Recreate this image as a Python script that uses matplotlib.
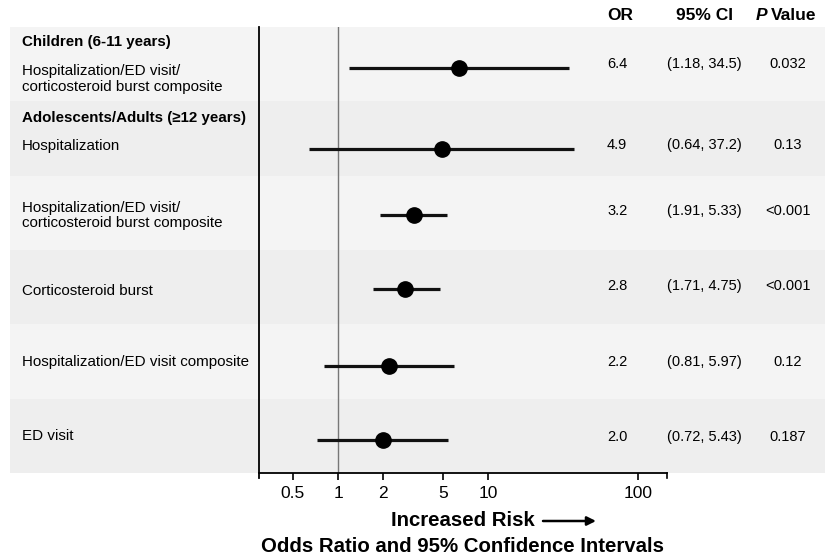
import matplotlib
matplotlib.use('Agg')
import matplotlib.pyplot as plt
from matplotlib.patches import Rectangle, FancyArrowPatch
from matplotlib.transforms import blended_transform_factory

plt.rcParams['font.family'] = ['Liberation Sans', 'DejaVu Sans']

# ---------------- data ----------------
groups = ["Children (6-11 years)", "Adolescents/Adults (\u226512 years)"]
outcomes = [
    "Hospitalization/ED visit/\ncorticosteroid burst composite",
    "Hospitalization",
    "Hospitalization/ED visit/\ncorticosteroid burst composite",
    "Corticosteroid burst",
    "Hospitalization/ED visit composite",
    "ED visit",
]
odds_ratio = [6.4, 4.9, 3.2, 2.8, 2.2, 2.0]
ci_low = [1.18, 0.64, 1.91, 1.71, 0.81, 0.72]
ci_high = [34.5, 37.2, 5.33, 4.75, 5.97, 5.43]
or_labels = ["6.4", "4.9", "3.2", "2.8", "2.2", "2.0"]
ci_labels = ["(1.18, 34.5)", "(0.64, 37.2)", "(1.91, 5.33)",
             "(1.71, 4.75)", "(0.81, 5.97)", "(0.72, 5.43)"]
p_labels = ["0.032", "0.13", "<0.001", "<0.001", "0.12", "0.187"]
xtick_values = [0.5, 1, 2, 5, 10, 100]
xtick_labels = ["0.5", "1", "2", "5", "10", "100"]

# ---------------- layout ----------------
W, H = 825, 555
fig = plt.figure(figsize=(W / 100, H / 100), dpi=100)
fig.patch.set_facecolor('white')

ax_left, ax_right, ax_top, ax_bot = 259, 667, 27, 473
ax = fig.add_axes([ax_left / W, 1 - ax_bot / H, (ax_right - ax_left) / W, (ax_bot - ax_top) / H])
ax.patch.set_visible(False)
ax.set_xscale('log')
ax.set_xlim(0.297, 156)
nrows = len(outcomes)
ax.set_ylim(nrows, 0)

# row positions (in row units, each row one band)
marker_y = [0.55, 1.635, 2.53, 3.53, 4.56, 5.56]
label_y = [0.70, 1.60, 2.53, 3.55, 4.51, 5.50]
group_y = [0.20, 1.22]

tr = blended_transform_factory(fig.transFigure, ax.transData)

band_colors = ['#f4f4f4', '#eeeeee']
for i in range(nrows):
    ax.add_patch(Rectangle((10 / W, i), 1 - 10 / W, 1, transform=tr,
                           facecolor=band_colors[i % 2], edgecolor='none',
                           clip_on=False, zorder=0))

# reference line at OR = 1
ax.axvline(1, color='#777777', lw=1.0, zorder=1)

# CIs and points
for i in range(nrows):
    ax.plot([ci_low[i], ci_high[i]], [marker_y[i], marker_y[i]], color='#111111',
            lw=2.3, solid_capstyle='butt', zorder=2)
    ax.plot(odds_ratio[i], marker_y[i], 'o', color='black', ms=11, zorder=3)

# spines / ticks
for s in ['top', 'right']:
    ax.spines[s].set_visible(False)
ax.spines['left'].set_linewidth(1.3)
ax.spines['bottom'].set_linewidth(1.3)
ax.spines['left'].set_bounds(nrows + 0.07, 0)
ax.set_yticks([])
ax.set_xticks(xtick_values)
ax.set_xticklabels(xtick_labels, fontsize=12.5)
ax.xaxis.set_minor_locator(matplotlib.ticker.NullLocator())
ax.tick_params(axis='x', length=5, width=1.2, pad=4, color='black')
# end tick at right edge
ax.plot([156, 156], [nrows, nrows + 0.07], color='black', lw=1.2, clip_on=False)

# left labels
for g, y in zip(groups, group_y):
    ax.text(22 / W, y, g, transform=tr, fontsize=10.9, fontweight='bold',
            va='center', ha='left')
for lab, y in zip(outcomes, label_y):
    ax.text(22 / W, y, lab, transform=tr, fontsize=10.9, va='center', ha='left',
            linespacing=1.1)

# right columns
for i in range(nrows):
    y = marker_y[i] - 0.05
    ax.text(607 / W, y, or_labels[i], transform=tr, fontsize=10.5, va='center', ha='left')
    ax.text(704 / W, y, ci_labels[i], transform=tr, fontsize=10.5, va='center', ha='center')
    ax.text(788 / W, y, p_labels[i], transform=tr, fontsize=10.5, va='center', ha='center')

# headers
hy = 1 - 16 / H
fig.text(620 / W, hy, "OR", fontsize=12.5, fontweight='bold', ha='center', va='center')
fig.text(705 / W, hy, "95% CI", fontsize=12.5, fontweight='bold', ha='center', va='center')
fig.text(767 / W, hy, "P", fontsize=12.5, fontweight='bold', style='italic', ha='right', va='center')
fig.text(771 / W, hy, "Value", fontsize=12.5, fontweight='bold', ha='left', va='center')

# bottom labels
fig.text(463 / W, 1 - 521 / H, "Increased Risk", fontsize=14.7, fontweight='bold',
         ha='center', va='center')
fig.add_artist(FancyArrowPatch(
    (543 / W, 1 - 521 / H), (596 / W, 1 - 521 / H), transform=fig.transFigure,
    arrowstyle='-|>', mutation_scale=13, lw=1.8, color='black',
    shrinkA=0, shrinkB=0))
fig.text(462 / W, 1 - 546 / H, "Odds Ratio and 95% Confidence Intervals", fontsize=14.7,
         fontweight='bold', ha='center', va='center')

fig.savefig('out.png', dpi=100)
